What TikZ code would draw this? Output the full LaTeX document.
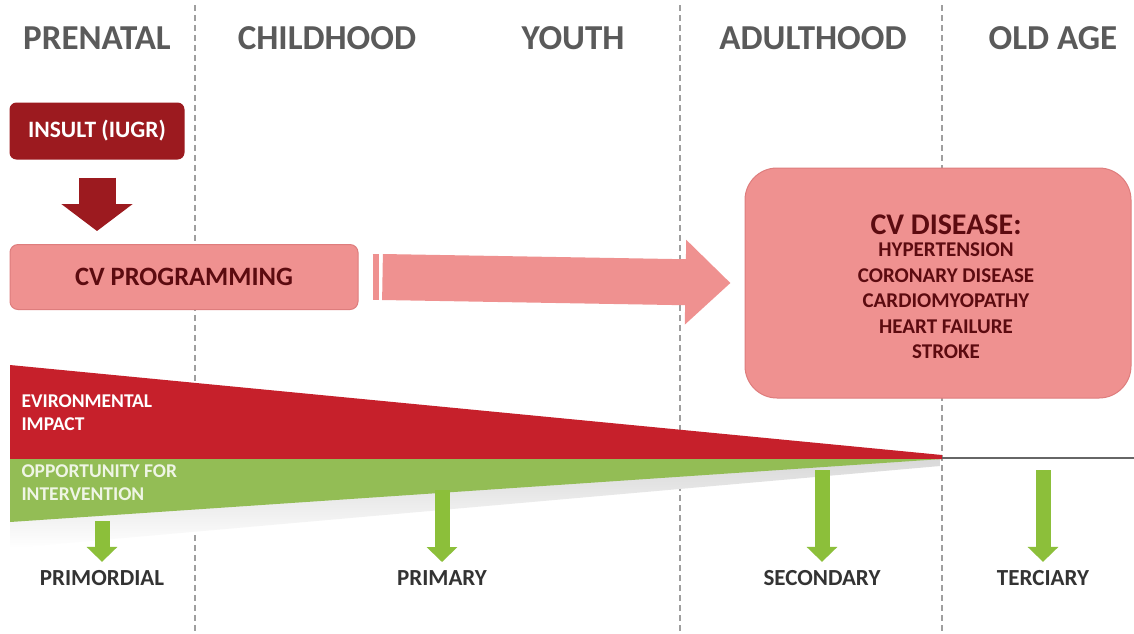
\documentclass[tikz,border=0pt]{standalone}
\usepackage{fontspec}
\setmainfont{Carlito}
\usetikzlibrary{positioning,arrows.meta}

\definecolor{stagegray}{HTML}{5A5A5A}
\definecolor{insultred}{HTML}{9C1A1F}
\definecolor{boxpink}{HTML}{EF9190}
\definecolor{boxline}{HTML}{DE7D7D}
\definecolor{boxtext}{HTML}{5C0B10}
\definecolor{envred}{HTML}{C6202B}
\definecolor{oppgreen}{HTML}{93BD55}
\definecolor{arrowgreen}{HTML}{8CBF3A}
\definecolor{leveltext}{HTML}{333333}

\tikzset{
  stage/.style={font=\fontsize{35}{35}\selectfont\bfseries, text=stagegray},
  divider/.style={draw=gray!75, line width=1.8pt, dash pattern=on 6pt off 4pt},
  insultbox/.style={fill=insultred, rounded corners=7pt, minimum width=175pt,
    minimum height=57pt, text=white, font=\fontsize{23.5}{23.5}\selectfont\bfseries},
  progbox/.style={fill=boxpink, draw=boxline, line width=1pt, rounded corners=8pt,
    minimum width=348pt, minimum height=65pt, text=boxtext,
    font=\fontsize{26.5}{26.5}\selectfont\bfseries},
  diseasebox/.style={fill=boxpink, draw=boxline, line width=1pt, rounded corners=32pt,
    minimum width=386pt, minimum height=230pt},
  diseasetitle/.style={text=boxtext, font=\fontsize{30}{30}\selectfont\bfseries},
  diseaselist/.style={text=boxtext, align=center, font=\fontsize{21}{25.5}\selectfont\bfseries},
  wedgetext/.style={anchor=west, align=left, font=\fontsize{19.5}{23}\selectfont\bfseries},
  level/.style={text=leveltext, font=\fontsize{23}{23}\selectfont\bfseries},
  insultarrow/.style={draw=insultred, line width=37pt, -{Triangle[width=70pt,length=27pt]}},
  progarrow/.style={draw=boxpink, line width=46pt, -{Triangle[width=82pt,length=45pt]}},
  greenarrow/.style={draw=arrowgreen, line width=15pt, -{Triangle[width=30pt,length=15pt]}}
}

\begin{document}
\begin{tikzpicture}[x=1pt, y=-1pt]

  \useasboundingbox (0,0) rectangle (1134,633);
  \fill[white] (0,0) rectangle (1134,633);

  % Stage borders
  \foreach \x in {195,680,942}
    \draw[divider] (\x,5) -- (\x,633);

  % Define nodes
  \node[stage] (prenatal) at (97,38) {PRENATAL};
  \node[stage] (childhood) at (327,38) {CHILDHOOD};
  \node[stage] (youth) at (573,38) {YOUTH};
  \node[stage] (adulthood) at (813,38) {ADULTHOOD};
  \node[stage] (oldage) at (1053,38) {OLD AGE};

  \node[insultbox] (insult) at (97,131) {INSULT (IUGR)};
  \node[progbox] (prog) at (184,277) {CV PROGRAMMING};
  \node[diseasebox] (disease) at (938,283) {};
  \node[diseasetitle] (title) at (946,225) {CV DISEASE:};
  \node[diseaselist] (list) at (946,301)
    {HYPERTENSION\\CORONARY DISEASE\\CARDIOMYOPATHY\\HEART FAILURE\\STROKE};

  % Impact and opportunity
  \shade[top color=gray!30, bottom color=white]
    (10,518) -- (940,459) -- (940,466) -- (10,548) -- cycle;
  \fill[envred] (10,365) -- (942,455) -- (942,459) -- (10,459) -- cycle;
  \fill[oppgreen] (10,459) -- (942,459) -- (10,522) -- cycle;
  \draw[gray!80!black, line width=2pt] (942,458) -- (1134,458);
  \node[wedgetext, text=white] (impact) at (18,413) {EVIRONMENTAL\\IMPACT};
  \node[wedgetext, text=white!85!oppgreen] (chance) at (18,483) {OPPORTUNITY FOR\\INTERVENTION};

  \node[level] (primordial) at (102,578) {PRIMORDIAL};
  \node[level] (primary) at (442,578) {PRIMARY};
  \node[level] (secondary) at (822,578) {SECONDARY};
  \node[level] (terciary) at (1043,578) {TERCIARY};

  \coordinate (gprimordial) at (102,521);
  \coordinate (gprimary) at (442,490);
  \coordinate (gsecondary) at (822,470);
  \coordinate (gterciary) at (1043,470);

  % Connect the nodes
  \draw[insultarrow] ([yshift=-18pt]insult.south) -- ([yshift=13pt]insult.south |- prog.north);
  \draw[boxpink, line width=46pt] ([xshift=14pt]prog.east) -- ([xshift=20pt]prog.east);
  \draw[progarrow] ([xshift=24pt]prog.east) -- ([xshift=-14pt]disease.west);

  \draw[greenarrow] (gprimordial) -- ([yshift=5pt]primordial.north);
  \draw[greenarrow] (gprimary) -- ([yshift=5pt]primary.north);
  \draw[greenarrow] (gsecondary) -- ([yshift=5pt]secondary.north);
  \draw[greenarrow] (gterciary) -- ([yshift=5pt]terciary.north);

\end{tikzpicture}
\end{document}
